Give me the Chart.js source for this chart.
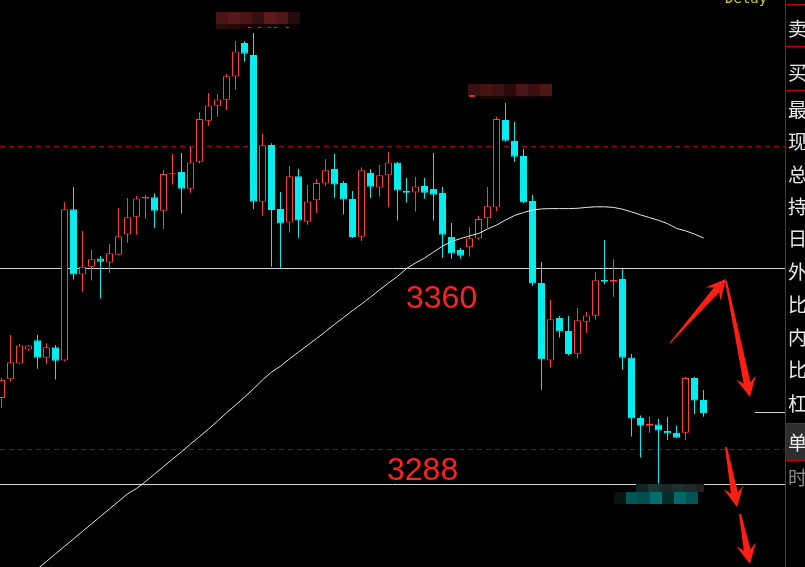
<!DOCTYPE html>
<html><head><meta charset="utf-8">
<script src="https://cdn.jsdelivr.net/npm/chart.js@4/dist/chart.umd.min.js"></script>
<style>html,body{margin:0;padding:0;background:#000;overflow:hidden}canvas{display:block}</style>
</head><body><canvas id="c" width="805" height="567"></canvas>
<script>
// ---- data (candle index 0..78) ----
const opens = [
3316.7,3322.9,3328.2,3332.8,3335.9,3330.1,3333.6,3329.2,3379.6,3357.8,
3360.4,3363.2,3361.8,3364.4,3371.2,3377.1,3383.2,3383.6,3379.1,3391.2,
3392.0,3386.4,3395.4,3409.1,3414.1,3416.1,3423.8,3435.0,3431.0,3382.1,
3401.0,3379.7,3375.2,3390.6,3375.4,3382.6,3388.2,3393.0,3388.3,3383.0,
3370.4,3391.7,3386.8,3390.9,3395.2,3385.7,3385.2,3387.3,3386.3,3385.0,
3370.3,3366.0,3366.9,3369.8,3376.6,3380.2,3409.3,3402.3,3397.3,3382.3,
3355.0,3329.2,3343.3,3339.0,3331.4,3342.1,3344.1,3356.0,3355.4,3356.3,
3330.2,3310.0,3307.4,3307.8,3305.7,3305.1,3305.1,3323.3,3316.0];
const highs = [
3323.3,3337.7,3334.7,3334.3,3337.7,3334.9,3334.3,3381.9,3387.0,3372.3,
3366.2,3364.0,3368.0,3380.0,3383.3,3384.0,3384.3,3384.9,3392.7,3398.0,
3398.3,3400.4,3411.9,3418.3,3418.0,3424.7,3435.7,3435.7,3438.3,3404.7,
3401.6,3385.3,3394.0,3393.0,3387.7,3389.7,3396.3,3398.0,3389.0,3385.7,
3393.6,3392.9,3394.3,3398.7,3395.3,3390.0,3390.3,3390.0,3398.3,3387.0,
3375.0,3366.7,3373.7,3377.3,3387.0,3410.4,3415.0,3408.7,3399.7,3384.3,
3362.0,3349.3,3344.0,3344.0,3346.7,3345.3,3358.7,3369.3,3363.0,3359.7,
3331.3,3310.8,3310.3,3309.7,3310.4,3307.4,3323.7,3323.7,3319.3];
const lows = [
3313.3,3322.1,3328.2,3332.4,3326.4,3328.1,3322.8,3328.8,3356.2,3352.1,
3355.8,3349.8,3358.4,3364.4,3368.4,3371.1,3376.4,3373.4,3373.0,3387.8,
3378.2,3385.1,3394.8,3407.3,3410.4,3412.7,3419.4,3428.8,3379.7,3377.4,
3360.4,3360.1,3371.8,3370.1,3374.4,3378.4,3387.4,3383.4,3377.8,3370.0,
3369.0,3383.3,3383.8,3380.4,3375.8,3381.8,3378.8,3383.1,3375.8,3363.4,
3363.1,3363.1,3363.8,3369.4,3373.3,3378.9,3402.1,3395.4,3381.7,3354.1,
3319.4,3326.8,3336.8,3330.8,3329.8,3338.4,3342.8,3354.6,3350.4,3326.1,
3303.8,3296.8,3305.1,3288.2,3302.7,3303.4,3302.7,3311.3,3310.4];
const closes = [
3322.7,3328.6,3334.2,3334.2,3330.1,3333.6,3329.1,3379.6,3357.8,3360.4,
3362.9,3362.1,3364.9,3370.6,3376.9,3383.2,3383.7,3379.1,3391.3,3391.6,
3386.4,3395.2,3409.7,3414.2,3416.2,3423.9,3432.2,3431.4,3382.1,3400.9,
3379.3,3374.8,3390.6,3375.8,3382.2,3388.3,3392.6,3387.8,3382.8,3370.3,
3392.6,3387.1,3390.9,3395.2,3385.8,3385.1,3387.2,3385.1,3384.4,3371.1,
3364.8,3364.1,3369.9,3376.3,3380.6,3409.7,3402.4,3397.1,3381.8,3354.8,
3329.6,3342.9,3338.8,3331.3,3342.6,3344.2,3355.9,3355.4,3356.0,3330.1,
3309.8,3307.4,3308.0,3305.8,3304.8,3303.4,3323.3,3315.8,3311.7];
const maValues = [
null,null,null,null,3259.7,3262.2,3264.7,3267.2,3269.7,3272.2,
3274.7,3277.2,3279.7,3282.2,3284.7,3286.5,3288.8,3291.3,3293.8,3296.3,
3298.7,3301.3,3303.8,3306.3,3309.0,3311.7,3314.3,3317.0,3319.7,3322.7,
3325.3,3327.3,3329.7,3332.0,3334.2,3336.5,3338.8,3341.2,3343.5,3345.8,
3348.0,3350.3,3352.7,3355.0,3357.2,3359.8,3361.7,3363.3,3365.3,3367.3,
3368.8,3369.8,3370.7,3371.5,3373.0,3374.3,3376.0,3377.5,3378.5,3379.3,
3379.7,3379.8,3379.8,3379.8,3379.9,3380.2,3380.4,3380.4,3380.2,3379.6,
3378.7,3377.7,3376.8,3375.9,3374.8,3373.2,3372.4,3371.3,3370.0];
const solidLevels = [3360, 3288];
const levelLabels = ['3360', '3288'];
const dashedLevels = [3400.7, 3299.7];
const markLevel = 3312;
const sideLabels = ['卖','买','最','现','总','持','日','外','比','内','比','杠','单','时'];

// ---- styling ----
const UP = '#ff3b3b', DOWN = '#00eeee';
const idx = opens.map((_, i) => i);
const isUp = idx.map(i => closes[i] >= opens[i]);
const bodyData = idx.map(i => ({x: i, y: [Math.min(opens[i], closes[i]), Math.max(opens[i], closes[i])]}));
const wickData = idx.map(i => ({x: i, y: [lows[i], highs[i]]}));
const maData = idx.map(i => ({x: i, y: maValues[i]}));

function arrow(ctx, x0, y0, x1, y1, w0, w1, L, H) {
  const dx = x1 - x0, dy = y1 - y0, len = Math.hypot(dx, dy);
  const ux = dx / len, uy = dy / len, nx = -uy, ny = ux;
  const bx = x1 - ux * L * 0.72, by = y1 - uy * L * 0.72;
  const wx = x1 - ux * L, wy = y1 - uy * L;
  ctx.beginPath();
  ctx.moveTo(x0 + nx * w0 / 2, y0 + ny * w0 / 2);
  ctx.lineTo(bx + nx * w1 / 2, by + ny * w1 / 2);
  ctx.lineTo(wx + nx * H, wy + ny * H);
  ctx.lineTo(x1, y1);
  ctx.lineTo(wx - nx * H, wy - ny * H);
  ctx.lineTo(bx - nx * w1 / 2, by - ny * w1 / 2);
  ctx.lineTo(x0 - nx * w0 / 2, y0 - ny * w0 / 2);
  ctx.closePath();
  ctx.fill();
}
function mosaic(ctx, x, y, bw, h, colors) {
  colors.forEach((c, i) => { ctx.fillStyle = c; ctx.fillRect(x + i * bw, y, bw, h); });
}

const overlay = {
  id: 'overlay',
  beforeDatasetsDraw(chart) {
    const ctx = chart.ctx, ys = chart.scales.y;
    ctx.save();
    ctx.lineWidth = 1;
    ctx.strokeStyle = '#a80000';
    ctx.setLineDash([5, 4]);
    dashedLevels.forEach(v => {
      const py = Math.round(ys.getPixelForValue(v)) + 0.5;
      ctx.beginPath(); ctx.moveTo(0, py); ctx.lineTo(785, py); ctx.stroke();
    });
    ctx.setLineDash([]);
    ctx.strokeStyle = '#d6d6d6';
    solidLevels.forEach(v => {
      const py = Math.round(ys.getPixelForValue(v)) + 0.5;
      ctx.beginPath(); ctx.moveTo(0, py); ctx.lineTo(785, py); ctx.stroke();
    });
    const my = Math.round(ys.getPixelForValue(markLevel)) + 0.5;
    ctx.beginPath(); ctx.moveTo(755, my); ctx.lineTo(785, my); ctx.stroke();
    ctx.restore();
  },
  afterDraw(chart) {
    const ctx = chart.ctx, ys = chart.scales.y;
    ctx.save();
    // pixelated annotation boxes
    mosaic(ctx, 216, 12, 12, 12, ['#4a1414','#561818','#4b1515','#361010','#5c1a1a','#521818','#260a0a']);
    mosaic(ctx, 216, 24, 12, 5, ['#2a0b0b','#240909','#1a0606','#140505','#120404','#100404','#0a0202']);
    ctx.fillStyle = '#c83030';
    [248, 258, 268, 274, 286].forEach(x => ctx.fillRect(x, 27, 3, 1));
    mosaic(ctx, 468, 84, 12, 12, ['#3a1010','#451414','#3c1111','#2a0a0a','#4a1616','#3a1010','#4e1717']);
    mosaic(ctx, 480, 96, 12, 3, ['#160505','#160505','#120404','#120404','#100303','#100303']);
    ctx.fillStyle = '#d03030'; ctx.fillRect(469, 95, 6, 2);
    mosaic(ctx, 636, 484, 12, 8, ['#142424','#1c3434','#1c2828','#1c3030','#1c2a2a']);
    ctx.fillStyle = '#202020'; ctx.fillRect(696, 484, 8, 8);
    mosaic(ctx, 614, 492, 12, 12, ['#061414','#005656','#004e4e','#006e6e','#002c2c','#006a6a','#005454']);

    // level labels
    ctx.fillStyle = '#ff2020';
    ctx.font = '32px "Liberation Sans", Arial, sans-serif';
    ctx.textBaseline = 'alphabetic';
    ctx.fillText(levelLabels[0], 406, ys.getPixelForValue(solidLevels[0]) + 40);
    ctx.fillText(levelLabels[1], 387, ys.getPixelForValue(solidLevels[1]) - 4);

    // hand-drawn arrows
    ctx.fillStyle = '#ff1e14';
    arrow(ctx, 670, 343, 726, 279, 1, 7, 20, 10);
    arrow(ctx, 726, 281, 750, 397, 2, 7, 20, 10);
    arrow(ctx, 726, 447, 737, 507, 2, 7, 20, 10);
    arrow(ctx, 740, 514, 750, 564, 2, 7, 20, 10);

    // top "Delay"
    ctx.fillStyle = '#d2d200';
    ctx.font = '14px "DejaVu Sans Mono", monospace';
    ctx.fillText('Delay', 725, 3);

    // right panel
    ctx.fillStyle = '#000';
    ctx.fillRect(786, 0, 19, 567);
    ctx.fillStyle = '#2e2e2e';
    ctx.fillRect(786, 424, 19, 36);
    ctx.strokeStyle = '#c40000'; ctx.lineWidth = 1;
    ctx.beginPath(); ctx.moveTo(785.5, 0); ctx.lineTo(785.5, 567); ctx.stroke();
    [4, 46, 90, 423, 460].forEach(y => { ctx.beginPath(); ctx.moveTo(786, y + 0.5); ctx.lineTo(805, y + 0.5); ctx.stroke(); });
    ctx.font = '19px "Noto Sans CJK SC", sans-serif';
    ctx.textBaseline = 'middle';
    const ys2 = [29, 73, 110, 142, 175, 207, 239, 272, 305, 338, 370, 404, 443, 478];
    sideLabels.forEach((t, i) => {
      ctx.fillStyle = i === sideLabels.length - 1 ? '#8a8a8a' : '#e8e8e8';
      ctx.fillText(t, 788, ys2[i]);
    });
    ctx.restore();
  }
};

new Chart(document.getElementById('c'), {
  type: 'bar',
  data: {
    datasets: [
      {type: 'line', data: maData, borderColor: '#e6e6e6', borderWidth: 1, pointRadius: 0, tension: 0, order: 0},
      {type: 'bar', data: bodyData, backgroundColor: idx.map(i => isUp[i] ? '#000000' : DOWN),
       borderColor: idx.map(i => isUp[i] ? UP : DOWN), borderWidth: 1, borderSkipped: false,
       barThickness: 7, grouped: false, inflateAmount: 0, order: 1},
      {type: 'bar', data: wickData, backgroundColor: idx.map(i => isUp[i] ? UP : DOWN), borderWidth: 0,
       barThickness: 1, grouped: false, inflateAmount: 0, order: 2}
    ]
  },
  options: {
    responsive: false, animation: false, events: [],
    layout: {padding: 0},
    plugins: {legend: {display: false}, tooltip: {enabled: false}},
    scales: {
      x: {type: 'linear', display: false, offset: false, min: -1 / 6, max: -1 / 6 + 805 / 9},
      y: {type: 'linear', display: false, min: 3360 - 299 / 3, max: 3360 + 268 / 3}
    }
  },
  plugins: [overlay]
});
</script>
</body></html>
